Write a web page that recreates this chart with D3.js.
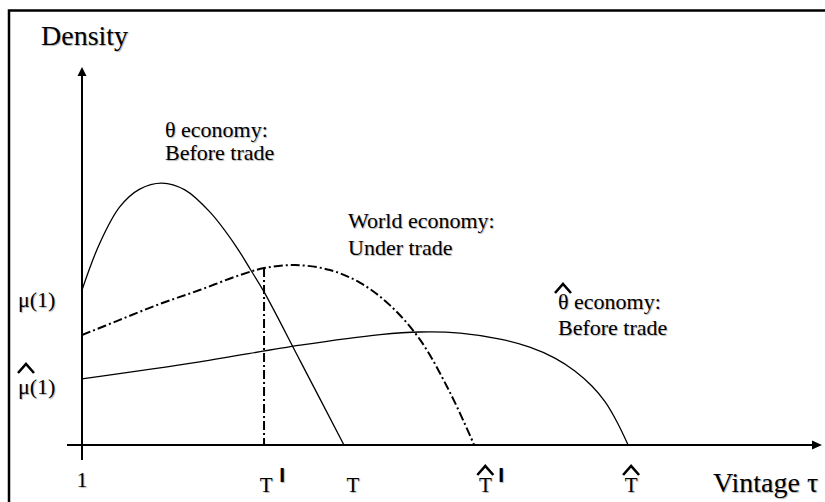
<!DOCTYPE html>
<html>
<head>
<meta charset="utf-8">
<script src="https://cdn.jsdelivr.net/npm/d3@7/dist/d3.min.js"></script>
<style>
  html, body { margin: 0; padding: 0; background: #fff; }
  svg { display: block; }
  text { font-family: "Liberation Serif", "Times New Roman", serif; fill: #000;
         text-shadow: 1px 1px 1px rgba(0,0,0,0.3); }
</style>
</head>
<body>
<script>
// ---- data (vintage tau on 0-100 scale, density on 0-100 scale) ----
const thetaTau      = [0, 2.4, 5.1, 7.8, 10.8, 13.9, 17.3, 20.7, 22.8, 24.6, 29.5, 35.4];
const thetaDensity  = [41.0, 53.4, 63.0, 67.7, 69.3, 67.5, 61.6, 52.9, 46.3, 40.5, 22.2, 0];

const worldTau      = [0, 5.1, 10.5, 15.9, 21.4, 24.6, 28.8, 33.5, 37.6, 41.6, 45.7, 49.7, 53.0];
const worldDensity  = [29.1, 33.1, 37.3, 41.0, 45.0, 46.8, 47.6, 46.3, 42.9, 37.0, 27.8, 14.0, 0];

const hatTau        = [0, 15.9, 29.5, 40.3, 45.7, 51.1, 56.5, 60.5, 63.9, 66.6, 68.9, 70.7, 72.3, 73.8];
const hatDensity    = [17.5, 22.0, 26.4, 29.2, 29.9, 29.6, 28.0, 25.9, 23.0, 19.6, 15.6, 11.4, 6.1, 0];

const tPrime = 24.6;   // T' : world density at this vintage drawn as vertical
const tPrimeDensity = 46.8;

const xTickLabels = ["1", "T", "T", "T", "T"];
const xTickPos    = [0, 24.9, 36.6, 54.5, 74.2];
const xTickHat    = [false, false, false, true, true];
const xTickPrime  = [false, true, false, true, false];

const yTickLabels = ["\u03bc(1)", "\u03bc(1)"];
const yTickPos    = [37.8, 14.8];
const yTickHat    = [false, true];

// ---- layout ----
const W = 825, H = 502;
const svg = d3.select("body").append("svg").attr("width", W).attr("height", H);

const x = d3.scaleLinear().domain([0, 100]).range([82, 822]);
const y = d3.scaleLinear().domain([0, 100]).range([445, 67]);

// frame
svg.append("path").attr("d", `M9,${H} L9,10.5 L${W},10.5`)
  .attr("fill", "none").attr("stroke", "#000").attr("stroke-width", 2.5);

// axes
svg.append("line").attr("x1", x(0) - 15).attr("x2", x(100) - 4)
  .attr("y1", y(0)).attr("y2", y(0)).attr("stroke", "#000").attr("stroke-width", 2);
svg.append("line").attr("x1", x(0)).attr("x2", x(0))
  .attr("y1", y(0) + 15).attr("y2", y(100) + 4).attr("stroke", "#000").attr("stroke-width", 2);
// arrowheads
svg.append("path")
  .attr("d", `M${x(100)},${y(0)} l-10,-4.5 l0,9 Z`).attr("fill", "#000");
svg.append("path")
  .attr("d", `M${x(0)},${y(100)} l-4.5,9 l9,0 Z`).attr("fill", "#000");

// curves
const line = d3.line().x(d => x(d[0])).y(d => y(d[1])).curve(d3.curveCatmullRom.alpha(0.5));

svg.append("path").datum(d3.zip(thetaTau, thetaDensity)).attr("d", line)
  .attr("fill", "none").attr("stroke", "#000").attr("stroke-width", 1.3);
svg.append("path").datum(d3.zip(hatTau, hatDensity)).attr("d", line)
  .attr("fill", "none").attr("stroke", "#000").attr("stroke-width", 1.3);
svg.append("path").datum(d3.zip(worldTau, worldDensity)).attr("d", line)
  .attr("fill", "none").attr("stroke", "#000").attr("stroke-width", 2)
  .attr("stroke-dasharray", "9,3,2,3");
svg.append("line").attr("x1", x(tPrime)).attr("x2", x(tPrime))
  .attr("y1", y(tPrimeDensity)).attr("y2", y(0))
  .attr("stroke", "#000").attr("stroke-width", 2).attr("stroke-dasharray", "9,3,2,3");

function hat(cx, cy) {
  svg.append("path").attr("d", `M${cx - 8},${cy + 5} L${cx},${cy - 4} L${cx + 8},${cy + 5}`)
    .attr("fill", "none").attr("stroke", "#000").attr("stroke-width", 2.6);
}

// x tick labels
xTickLabels.forEach((t, i) => {
  const cx = x(xTickPos[i]);
  const isOne = i === 0;
  svg.append("text").attr("x", cx).attr("y", isOne ? 487 : 492)
    .attr("text-anchor", "middle").style("font-size", isOne ? "22px" : "21px").text(t);
  if (xTickHat[i]) hat(cx, 470);
  if (xTickPrime[i]) {
    svg.append("text").attr("x", cx + 13).attr("y", 482)
      .style("font-family", "'Liberation Sans', Arial, sans-serif")
      .style("font-weight", "bold")
      .style("font-size", "21px").text("I");
  }
});
// y tick labels
yTickLabels.forEach((t, i) => {
  svg.append("text").attr("x", 18).attr("y", y(yTickPos[i]) + 5)
    .style("font-size", "22px").text(t);
  if (yTickHat[i]) hat(26, 368);
});

// axis titles
svg.append("text").attr("x", 41).attr("y", 45).style("font-size", "28px").text("Density");
svg.append("text").attr("x", 713).attr("y", 492).style("font-size", "28px").text("Vintage \u03c4");

// annotations
function label(x0, y0, lines, dy) {
  lines.forEach((l, i) => svg.append("text").attr("x", x0).attr("y", y0 + i * dy)
    .style("font-size", "22px").text(l));
}
label(165, 137, ["\u03b8 economy:", "Before trade"], 23);
label(348, 228, ["World economy:", "Under trade"], 27);
label(558, 309, ["\u03b8 economy:", "Before trade"], 26);
hat(563, 288);
</script>
</body>
</html>
